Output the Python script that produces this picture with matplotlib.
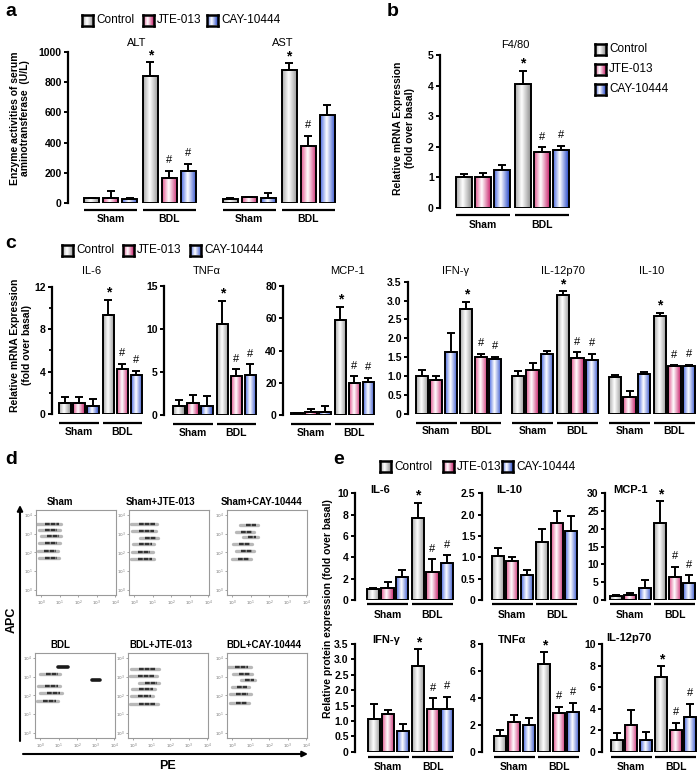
import numpy as np
import matplotlib.pyplot as plt
from matplotlib.colors import LinearSegmentedColormap
from matplotlib.transforms import ScaledTranslation

plt.rcParams['font.family'] = ['Liberation Sans', 'DejaVu Sans']

series = ['Control', 'JTE-013', 'CAY-10444']
groups = ['Sham', 'BDL']

# panel a - serum aminotransferase (U/L), order: Sham ctrl/JTE/CAY, BDL ctrl/JTE/CAY
alt_mean = [30, 30, 25, 843, 166, 212]
alt_err = [5, 50, 5, 90, 46, 46]
alt_marks = ['', '', '', '*', '#', '#']
ast_mean = [28, 37, 33, 880, 377, 583]
ast_err = [5, 5, 35, 47, 67, 66]
ast_marks = ['', '', '', '*', '#', '']

# panel b - F4/80 mRNA
f480_mean = [1.0, 1.02, 1.24, 4.04, 1.84, 1.89]
f480_err = [0.11, 0.13, 0.16, 0.44, 0.14, 0.14]

# panel c - mRNA
c_il6_mean = [1.0, 1.0, 0.8, 9.3, 4.2, 3.7]
c_il6_err = [0.6, 0.6, 0.6, 1.45, 0.55, 0.35]
c_tnf_mean = [1.0, 1.4, 1.0, 10.6, 4.5, 4.7]
c_tnf_err = [0.8, 0.9, 1.2, 2.7, 0.8, 1.2]
c_mcp1_mean = [1.0, 2.0, 2.0, 59, 20, 20.5]
c_mcp1_err = [0.5, 2.0, 3.5, 8, 4, 2.5]
c_ifng_mean = [1.0, 0.9, 1.62, 2.77, 1.5, 1.45]
c_ifng_err = [0.15, 0.1, 0.52, 0.2, 0.08, 0.06]
c_il12_mean = [1.0, 1.15, 1.57, 3.15, 1.47, 1.43]
c_il12_err = [0.12, 0.18, 0.08, 0.1, 0.15, 0.15]
c_il10_mean = [0.98, 0.45, 1.05, 2.6, 1.25, 1.27]
c_il10_err = [0.03, 0.15, 0.05, 0.07, 0.03, 0.03]
sig_marks = ['', '', '', '*', '#', '#']

# panel e - protein
e_il6_mean = [1.05, 1.1, 2.15, 7.65, 2.65, 3.5]
e_il6_err = [0.05, 0.6, 0.65, 1.45, 1.15, 0.7]
e_il10_mean = [1.04, 0.92, 0.58, 1.37, 1.81, 1.62]
e_il10_err = [0.17, 0.09, 0.12, 0.29, 0.28, 0.35]
e_mcp1_mean = [1.0, 1.5, 3.5, 21.7, 6.4, 4.7]
e_mcp1_err = [0.3, 0.5, 2.2, 6.1, 3.0, 2.3]
e_ifng_mean = [1.06, 1.22, 0.66, 2.77, 1.4, 1.4]
e_ifng_err = [0.5, 0.13, 0.24, 0.56, 0.33, 0.38]
e_tnf_mean = [1.15, 2.2, 1.97, 6.5, 2.85, 2.95]
e_tnf_err = [0.45, 0.55, 0.5, 0.87, 0.5, 0.7]
e_il12_mean = [1.08, 2.46, 1.1, 6.92, 2.0, 3.23]
e_il12_err = [0.7, 1.4, 0.7, 1.0, 0.68, 1.23]
no_marks = ['', '', '', '', '', '']

# panel d - flow cytometry streaks: (log APC, log PE start, log PE end, dense)
flow_titles = ['Sham', 'Sham+JTE-013', 'Sham+CAY-10444', 'BDL', 'BDL+JTE-013', 'BDL+CAY-10444']
flow_bands = [
    [(3.5, -0.2, 1.1, 0), (3.17, -0.1, 1.0, 0), (2.85, 0.0, 1.1, 0), (2.5, -0.1, 1.0, 0), (2.1, -0.15, 0.9, 0), (1.72, -0.1, 0.95, 0)],
    [(3.5, -0.15, 1.25, 0), (3.14, -0.1, 1.2, 0), (2.79, 0.3, 1.3, 0), (2.45, -0.05, 1.1, 0), (2.04, -0.1, 1.0, 0), (1.64, -0.15, 1.1, 0)],
    [(3.45, 0.45, 1.4, 0), (3.1, 0.2, 1.2, 0), (2.8, 0.6, 1.4, 0), (2.45, 0.05, 1.1, 0), (2.1, 0.2, 1.2, 0), (1.65, 0.0, 1.0, 0)],
    [(3.52, 0.97, 1.5, 1), (3.16, 0.0, 1.08, 0), (2.84, 2.8, 3.24, 1), (2.5, -0.1, 1.08, 0), (2.12, 0.0, 1.19, 0), (1.7, -0.16, 0.97, 0)],
    [(3.43, -0.1, 1.4, 0), (3.04, -0.15, 1.3, 0), (2.68, 0.3, 1.4, 0), (2.33, -0.05, 1.2, 0), (1.97, -0.1, 1.1, 0), (1.56, -0.15, 1.35, 0)],
    [(3.52, -0.2, 1.0, 0), (3.16, 0.05, 1.1, 0), (2.81, 0.5, 1.25, 0), (2.45, 0.0, 0.9, 0), (2.06, -0.1, 1.0, 0), (1.62, -0.1, 0.9, 0)],
]

W, H = 700, 773
fig = plt.figure(figsize=(7, 7.73), dpi=100)

cmaps = [
    LinearSegmentedColormap.from_list('ctrl', [(0, '#a9a9a9'), (0.42, '#ffffff'), (1, '#8f8f8f')]),
    LinearSegmentedColormap.from_list('jte', [(0, '#e0558f'), (0.42, '#ffffff'), (1, '#c8206a')]),
    LinearSegmentedColormap.from_list('cay', [(0, '#4a6ae0'), (0.42, '#ffffff'), (1, '#2446c8')]),
]
grad = np.linspace(0, 1, 64)[None, :]
pos_off = np.array([0, 1, 2, 3.1, 4.1, 5.1])

# overlay for free text in pixel coordinates
ov = fig.add_axes([0, 0, 1, 1])
ov.set_xlim(0, W)
ov.set_ylim(H, 0)
ov.axis('off')
ov.set_zorder(10)


def px_axes(l, t, r, b):
    ax = fig.add_axes([l / W, 1 - b / H, (r - l) / W, (b - t) / H])
    ax.patch.set_alpha(0)
    return ax


def bar_panel(left, top, bottom, right, first, step, ymax, ticks=None, labels=None):
    ax = px_axes(left, top, right, bottom)
    ax.set_xlim(-(first - left) / step, (right - first) / step)
    ax.set_ylim(0, ymax)
    for s in ['top', 'right', 'bottom']:
        ax.spines[s].set_visible(False)
    ax.set_xticks([])
    if ticks is not None:
        if labels is None:
            labels = [str(t) for t in ticks]
        ax.spines['left'].set_linewidth(1.6)
        ax.set_yticks(ticks, labels, fontsize=7.5, fontweight='bold')
        ax.tick_params(axis='y', direction='out', length=3, width=1.4, pad=1.5)
    else:
        ax.spines['left'].set_visible(False)
        ax.set_yticks([])
    return ax


def draw_group(ax, x0, mean, err, marks, line_dy, text_dy, width=0.84):
    xl, yl = ax.get_xlim(), ax.get_ylim()
    pos = x0 + pos_off
    bars = ax.bar(pos, mean, width, facecolor='none', edgecolor='k', linewidth=1.4, zorder=3)
    for i, rect in enumerate(bars):
        x = rect.get_x()
        im = ax.imshow(grad, extent=(x, x + width, 0, mean[i]), cmap=cmaps[i % 3],
                       aspect='auto', zorder=2, interpolation='bilinear')
        im.set_clip_path(rect)
    ax.errorbar(pos, mean, yerr=[np.zeros(len(mean)), err], fmt='none', ecolor='k',
                elinewidth=1.4, capsize=3, capthick=1.4, zorder=4)
    for i, m in enumerate(marks):
        if m == '*':
            ax.annotate(m, (pos[i], mean[i] + err[i]), xytext=(0, 0), textcoords='offset points',
                        ha='center', va='bottom', fontsize=10, fontweight='bold')
        elif m == '#':
            ax.annotate(m, (pos[i], mean[i] + err[i]), xytext=(0, 4), textcoords='offset points',
                        ha='center', va='bottom', fontsize=8)
    tl = ax.get_xaxis_transform() + ScaledTranslation(0, -line_dy / 100, fig.dpi_scale_trans)
    tt = ax.get_xaxis_transform() + ScaledTranslation(0, -text_dy / 100, fig.dpi_scale_trans)
    for g, name in enumerate(groups):
        a = pos[3 * g] - width / 2
        b = pos[3 * g + 2] + width / 2
        ax.plot([a, b], [0, 0], transform=tl, color='k', lw=1.6, clip_on=False, solid_capstyle='butt')
        ax.text((a + b) / 2, 0, name, transform=tt, ha='center', va='center',
                fontsize=7.5, fontweight='bold', clip_on=False)
    ax.set_xlim(xl)
    ax.set_ylim(yl)


def legend_key(x, y, i, label):
    k = px_axes(x, y - 5.5, x + 11, y + 5.5)
    k.imshow(grad, cmap=cmaps[i], aspect='auto', extent=(0, 1, 0, 1))
    k.set_xticks([])
    k.set_yticks([])
    for s in k.spines.values():
        s.set_linewidth(1.8)
    ov.text(x + 14, y, label, va='center', ha='left', fontsize=8.5)


def dec_labels(vals):
    return ['0' if v == 0 else f'{v:.1f}' for v in vals]


# ---------------- panel a ----------------
ax = bar_panel(68, 52, 203, 336, 91.5, 19, 1000, [0, 200, 400, 600, 800, 1000])
draw_group(ax, 0, alt_mean, alt_err, alt_marks, 7, 16, width=0.8)
draw_group(ax, 7.3, ast_mean, ast_err, ast_marks, 7, 16, width=0.8)
ov.text(137, 43, 'ALT', ha='center', va='center', fontsize=8)
ov.text(283, 43, 'AST', ha='center', va='center', fontsize=8)
ov.text(20, 118, 'Enzyme activities of serum\naminotransferase  (U/L)', rotation=90,
        ha='center', va='center', fontsize=7.5, fontweight='bold', linespacing=1.1)
for i, s in enumerate(series):
    legend_key([82, 143, 207][i], 20, i, s)

# ---------------- panel b ----------------
ax = bar_panel(440, 55, 208, 578, 463.7, 19, 5, [0, 1, 2, 3, 4, 5])
draw_group(ax, 0, f480_mean, f480_err, sig_marks, 7, 17)
ov.text(515, 45, 'F4/80', ha='center', va='center', fontsize=8)
ov.text(404, 128, 'Relative mRNA Expression\n(fold over basal)', rotation=90,
        ha='center', va='center', fontsize=7.5, fontweight='bold', linespacing=1.2)
for i, s in enumerate(series):
    legend_key(595, [49, 69, 89][i], i, s)

# ---------------- panel c ----------------
ax = bar_panel(52, 286.7, 414, 146, 65, 14, 12, [0, 4, 8, 12])
ax.set_yticks([2, 6, 10], minor=True)
ax.tick_params(axis='y', which='minor', direction='out', length=2.5, width=1.3)
draw_group(ax, 0, c_il6_mean, c_il6_err, sig_marks, 9, 18)
ax = bar_panel(164, 286, 415, 261, 179, 14, 15, [0, 5, 10, 15])
draw_group(ax, 0, c_tnf_mean, c_tnf_err, sig_marks, 9, 18)
ax = bar_panel(283, 286, 415, 380, 297, 14, 80, [0, 20, 40, 60, 80])
draw_group(ax, 0, c_mcp1_mean, c_mcp1_err, sig_marks, 9, 18)
ifn_ticks = [0, 0.5, 1.0, 1.5, 2.0, 2.5, 3.0, 3.5]
ax = bar_panel(408, 281.7, 413.5, 505, 422, 14.3, 3.5, ifn_ticks, dec_labels(ifn_ticks))
draw_group(ax, 0, c_ifng_mean, c_ifng_err, sig_marks, 9, 18)
ax = bar_panel(505, 281.7, 413.5, 601, 518, 14.5, 3.5)
draw_group(ax, 0, c_il12_mean, c_il12_err, sig_marks, 9, 18)
ax = bar_panel(601, 281.7, 413.5, 698, 615, 14.5, 3.5)
draw_group(ax, 0, c_il10_mean, c_il10_err, sig_marks, 9, 18)
for t, x in zip(['IL-6', 'TNFα', 'MCP-1', 'IFN-γ', 'IL-12p70', 'IL-10'], [92, 207, 347, 456, 563, 652]):
    ov.text(x, 271, t, ha='center', va='center', fontsize=8)
ov.text(21, 345, 'Relative mRNA Expression\n(fold over basal)', rotation=90,
        ha='center', va='center', fontsize=7.5, fontweight='bold', linespacing=1.2)
for i, s in enumerate(series):
    legend_key([62, 123, 190][i], 250, i, s)

# ---------------- panel d ----------------
boxes = [(36, 510), (129, 510), (227, 510), (35, 653), (128, 653), (227, 653)]
title_x = [60, 160, 262, 60, 161, 264]
for k, (bl, bt) in enumerate(boxes):
    fa = px_axes(bl, bt, bl + 80, bt + 85)
    fa.set_xlim(-0.27, 4.05)
    fa.set_ylim(-0.27, 4.26)
    for s in fa.spines.values():
        s.set_linewidth(0.8)
        s.set_color('#9a9a9a')
    fa.set_xticks(range(5), [f'$10^{j}$' for j in range(5)], fontsize=3, color='0.45')
    fa.set_yticks(range(5), [f'$10^{j}$' for j in range(5)], fontsize=3, color='0.45')
    fa.tick_params(length=1.5, width=0.5, color='0.5', pad=1)
    for (y, x0, x1, dense) in flow_bands[k]:
        if dense:
            fa.plot([x0, x1], [y, y], color='0.1', lw=2.6, solid_capstyle='round')
        else:
            fa.plot([x0, x1], [y, y], color='0.72', lw=2.4, solid_capstyle='round')
            c0 = x0 + 0.3 * (x1 - x0)
            c1 = x1 - 0.1 * (x1 - x0)
            fa.plot([c0, c1], [y, y], color='0.2', lw=1.7, ls=(0, (2.0, 0.4)))
    ov.text(title_x[k], bt - 8, flow_titles[k], ha='center', va='center', fontsize=7, fontweight='bold')
ov.annotate('', xy=(20, 505), xytext=(20, 741),
            arrowprops=dict(arrowstyle='-|>', lw=1.5, color='k', mutation_scale=8, shrinkA=0, shrinkB=0))
ov.annotate('', xy=(308, 754), xytext=(23, 754),
            arrowprops=dict(arrowstyle='-|>', lw=1.5, color='k', mutation_scale=8, shrinkA=0, shrinkB=0))
ov.text(12, 620, 'APC', rotation=90, ha='center', va='center', fontsize=9, fontweight='bold')
ov.text(167, 766, 'PE', ha='center', va='center', fontsize=9, fontweight='bold')

# ---------------- panel e ----------------
ax = bar_panel(355, 493.3, 600, 456, 373, 14.5, 10, [0, 2, 4, 6, 8, 10])
draw_group(ax, 0, e_il6_mean, e_il6_err, sig_marks, 4, 15)
il10_ticks = [0, 0.5, 1.0, 1.5, 2.0, 2.5]
ax = bar_panel(481.7, 493.3, 600, 581, 498, 14.3, 2.5, il10_ticks, dec_labels(il10_ticks))
draw_group(ax, 0, e_il10_mean, e_il10_err, no_marks, 4, 15)
ax = bar_panel(605, 493.3, 600, 700, 616, 14.3, 30, [0, 5, 10, 15, 20, 25, 30])
draw_group(ax, 0, e_mcp1_mean, e_mcp1_err, sig_marks, 4, 15)
ax = bar_panel(355, 644, 751.7, 456, 374, 14.3, 3.5, ifn_ticks, dec_labels(ifn_ticks))
draw_group(ax, 0, e_ifng_mean, e_ifng_err, sig_marks, 5.5, 15.5)
ax = bar_panel(481.7, 644, 751.7, 581, 500, 14.3, 8, [0, 2, 4, 6, 8])
draw_group(ax, 0, e_tnf_mean, e_tnf_err, sig_marks, 5.5, 15.5)
ax = bar_panel(601.7, 644, 751.7, 700, 617, 14.3, 10, [0, 2, 4, 6, 8, 10])
draw_group(ax, 0, e_il12_mean, e_il12_err, sig_marks, 5.5, 15.5)
for t, x, y in [('IL-6', 370, 490), ('IL-10', 496, 490), ('MCP-1', 613, 490),
                ('IFN-γ', 372, 640), ('TNFα', 498, 640), ('IL-12p70', 606, 638)]:
    ov.text(x, y, t, ha='left', va='center', fontsize=8, fontweight='bold')
ov.text(328, 609, 'Relative protein expression (fold over basal)', rotation=90,
        ha='center', va='center', fontsize=7.5, fontweight='bold')
for i, s in enumerate(series):
    legend_key([380, 443, 502][i], 466.7, i, s)

# panel letters
for letter, x, y in [('a', 5, 12), ('b', 387, 12), ('c', 5, 243), ('d', 5, 460), ('e', 333, 460)]:
    ov.text(x, y, letter, ha='left', va='center', fontsize=14, fontweight='bold')

fig.savefig('out.png', dpi=100)
